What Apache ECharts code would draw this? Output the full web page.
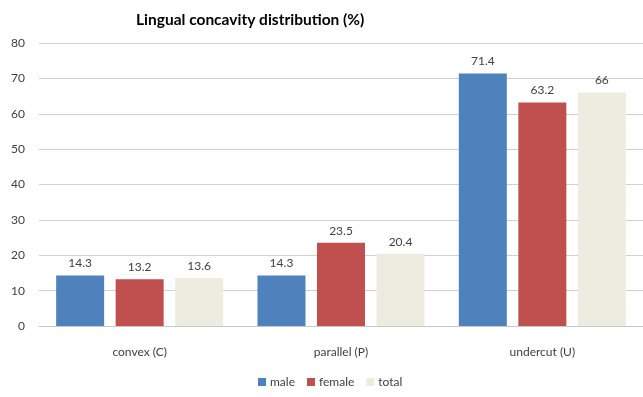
<!DOCTYPE html>
<html>
<head>
<meta charset="utf-8">
<script src="https://cdn.jsdelivr.net/npm/echarts@6/dist/echarts.min.js"></script>
<style>
  html, body { margin: 0; padding: 0; background: #ffffff; }
  #chart { width: 643px; height: 397px; }
</style>
</head>
<body>
<div id="chart"></div>
<script>
// Lingual concavity distribution by sex (%)
const categories = ['convex (C)', 'parallel (P)', 'undercut (U)'];
const maleValues = [14.3, 14.3, 71.4];
const femaleValues = [13.2, 23.5, 63.2];
const totalValues = [13.6, 20.4, 66];
const yTicks = [0, 10, 20, 30, 40, 50, 60, 70, 80];

const font = 'Lato, "Open Sans", sans-serif';
const labelStyle = { show: true, position: 'top', distance: 6, color: '#404040', fontSize: 12, fontFamily: font };

function barSeries(name, data, color) {
  return {
    name: name,
    type: 'bar',
    data: data,
    barWidth: 48,
    barGap: '24%',
    itemStyle: { color: color },
    label: labelStyle
  };
}

const chart = echarts.init(document.getElementById('chart'));
chart.setOption({
  animation: false,
  title: {
    text: 'Lingual concavity distribution (%)',
    left: 131,
    top: 7,
    textStyle: { fontFamily: font, fontSize: 15.5, fontWeight: 'bold', color: '#000000' }
  },
  grid: { left: 39, top: 43, width: 609, height: 283 },
  legend: {
    bottom: 4,
    left: 253,
    icon: 'rect',
    itemWidth: 8,
    itemHeight: 8,
    itemGap: 12,
    textStyle: { fontFamily: font, fontSize: 12, color: '#404040', padding: [0, 0, 0, -1] },
    data: ['male', 'female', 'total']
  },
  xAxis: {
    type: 'category',
    data: categories,
    axisTick: { show: false },
    axisLine: { lineStyle: { color: '#c8c8c8' } },
    axisLabel: { color: '#404040', fontSize: 12, fontFamily: font, margin: 20 }
  },
  yAxis: {
    type: 'value',
    min: yTicks[0],
    max: yTicks[yTicks.length - 1],
    interval: 10,
    axisLine: { show: false },
    axisTick: { show: false },
    axisLabel: { color: '#404040', fontSize: 12, fontFamily: font, margin: 14 },
    splitLine: { lineStyle: { color: '#d0d0d0' } }
  },
  series: [
    barSeries('male', maleValues, '#4f81bd'),
    barSeries('female', femaleValues, '#c0504d'),
    barSeries('total', totalValues, '#eeece1')
  ]
});
</script>
</body>
</html>
